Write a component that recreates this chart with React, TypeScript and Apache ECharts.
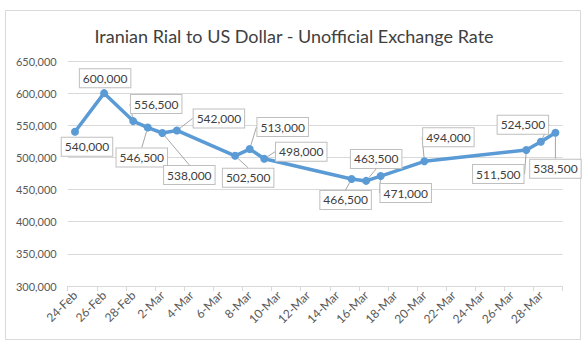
import React, { useEffect, useRef } from "react";
import * as echarts from "echarts";

const axisDays = [
  "24-Feb", "25-Feb", "26-Feb", "27-Feb", "28-Feb",
  "1-Mar", "2-Mar", "3-Mar", "4-Mar", "5-Mar", "6-Mar", "7-Mar", "8-Mar", "9-Mar", "10-Mar",
  "11-Mar", "12-Mar", "13-Mar", "14-Mar", "15-Mar", "16-Mar", "17-Mar", "18-Mar", "19-Mar", "20-Mar",
  "21-Mar", "22-Mar", "23-Mar", "24-Mar", "25-Mar", "26-Mar", "27-Mar", "28-Mar", "29-Mar",
];

const pointDates = [
  "24-Feb", "26-Feb", "28-Feb", "1-Mar", "2-Mar", "3-Mar", "7-Mar", "8-Mar",
  "9-Mar", "15-Mar", "16-Mar", "17-Mar", "20-Mar", "27-Mar", "28-Mar", "29-Mar",
];

const rates = [
  540000, 600000, 556500, 546500, 538000, 542000, 502500, 513000,
  498000, 466500, 463500, 471000, 494000, 511500, 524500, 538500,
];

const yTicks = { min: 300000, max: 650000, interval: 50000 };

// label offsets (dx, dy) from each point, and whether a leader line is shown
const labelOffsets = [
  [12, 15], [1, -15], [23, -17], [-6, 30], [27, 42], [42, -12], [13, 22], [33, -22],
  [37, -7], [-6, 21], [10, -22], [25, 17], [24, -24], [-28, 24], [-18, -17], [0, 36],
];
const showLeader = [
  false, false, true, true, true, true, true, true,
  true, true, true, true, true, true, true, true,
];

const FONT = "Lato, 'Open Sans', sans-serif";
const fmt = (v: number) => v.toLocaleString("en-US");

export default function App() {
  const ref = useRef<HTMLDivElement>(null);

  useEffect(() => {
    if (!ref.current) return;
    const chart = echarts.init(ref.current, undefined, { renderer: "svg" });
    chart.setOption({
      animation: false,
      backgroundColor: "#ffffff",
      textStyle: { fontFamily: FONT },
      title: {
        text: "Iranian Rial to US Dollar - Unofficial Exchange Rate",
        left: "center",
        top: 22,
        textStyle: { fontFamily: FONT, fontSize: 18, fontWeight: "normal", color: "#404040" },
      },
      graphic: [
        {
          type: "rect",
          shape: { x: 5.5, y: 10.5, width: 575, height: 329 },
          style: { fill: "none", stroke: "#d9d9d9", lineWidth: 1 },
          silent: true,
        },
      ],
      grid: { left: 67.7, right: 25.3, top: 61, bottom: 64 },
      xAxis: {
        type: "category",
        data: axisDays,
        boundaryGap: true,
        axisLine: { lineStyle: { color: "#d9d9d9" } },
        axisTick: { show: true, interval: 1, alignWithLabel: false, length: 5, lineStyle: { color: "#d9d9d9" } },
        axisLabel: { interval: 1, rotate: 45, margin: 7, fontSize: 12, color: "#595959", fontFamily: FONT },
        splitLine: { show: false },
      },
      yAxis: {
        type: "value",
        min: yTicks.min,
        max: yTicks.max,
        interval: yTicks.interval,
        axisLine: { show: false },
        axisTick: { show: false },
        axisLabel: { formatter: (v: number) => fmt(v), fontSize: 11, color: "#595959", margin: 11, fontFamily: FONT },
        splitLine: { lineStyle: { color: "#d9d9d9" } },
      },
      series: [
        {
          type: "line",
          data: pointDates.map((d, i) => ({
            value: [d, rates[i]],
            labelLine: { show: showLeader[i] },
          })),
          symbol: "circle",
          symbolSize: 8,
          lineStyle: { color: "#5b9bd5", width: 3.5 },
          itemStyle: { color: "#5b9bd5" },
          label: {
            show: true,
            position: "inside",
            formatter: (p: any) => fmt(p.value[1]),
            fontSize: 12,
            fontFamily: FONT,
            color: "#404040",
            backgroundColor: "#ffffff",
            borderColor: "#bfbfbf",
            borderWidth: 1,
            padding: [3, 3, 3, 3],
          },
          labelLine: { show: true, lineStyle: { color: "#a6a6a6", width: 1 } },
          labelLayout: (p: any) => ({
            dx: labelOffsets[p.dataIndex][0],
            dy: labelOffsets[p.dataIndex][1],
            hideOverlap: false,
          }),
          z: 3,
        },
      ],
    });
    return () => chart.dispose();
  }, []);

  return (
    <div
      ref={ref}
      style={{ position: "absolute", left: 0, top: 0, width: 588, height: 350 }}
    />
  );
}
